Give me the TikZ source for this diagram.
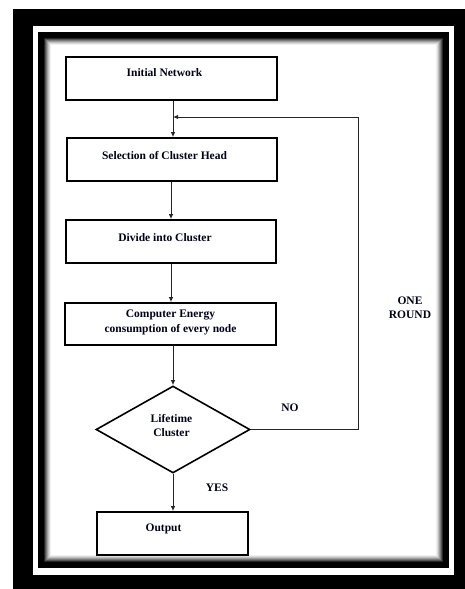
\documentclass[tikz,border=0pt]{standalone}
\usepackage{fontspec}
\setmainfont{Liberation Serif}
\usetikzlibrary{shapes.geometric,arrows.meta,calc}
\begin{document}
\begin{tikzpicture}[x=1pt,y=-1pt,
  boxst/.style={draw=black,line width=1.8pt,rectangle,minimum height=43pt,inner sep=0pt},
  decst/.style={draw=black,line width=1.6pt,diamond,minimum width=154pt,minimum height=87pt,inner sep=0pt,aspect=1.77},
  txt/.style={font=\fontsize{11.5}{14.5}\selectfont\bfseries,align=center,inner sep=0pt,text=black!90!blue},
  conn/.style={draw=black!85,line width=0.9pt},
  arr/.style={conn,-{Latex[length=5pt,width=4.5pt]}}]
\useasboundingbox (0,0) rectangle (465,589);
% frame
\fill[white] (0,0) rectangle (465,589);
\fill[black] (13,9) rectangle (465,589);
\fill[white] (33,26) rectangle (454,575);
\fill[black] (38,32) rectangle (449,568);
\foreach \i/\c in {0/85,1/68,2/52,3/38,4/25,5/14,6/6}{
  \fill[black!\c] (44+\i,38+\i) rectangle (443-\i,562-\i);
}
\fill[white] (51,45) rectangle (436,555);
% nodes
\node[boxst,minimum width=211pt] (n1) at (171.5,78.5) {};
\node[txt] (t1) at ($(n1.center)+(-7,-5.5)$) {Initial Network};
\node[boxst,minimum width=210pt] (n2) at (172,159.5) {};
\node[txt] (t2) at ($(n2.center)+(-7.5,-3.5)$) {Selection of Cluster Head};
\node[boxst,minimum width=210pt] (n3) at (171,241.5) {};
\node[txt] (t3) at ($(n3.center)+(-6,-4)$) {Divide into Cluster};
\node[boxst,minimum width=211pt,minimum height=42pt] (n4) at (170.5,324) {};
\node[txt] (t4) at ($(n4.center)+(0,-1.5)$) {Computer Energy\\consumption of every node};
\node[decst] (d) at (173,429.5) {};
\node[txt] (t5) at ($(d.center)+(-1.5,-4)$) {Lifetime\\Cluster};
\node[boxst,minimum width=151pt] (n5) at (172.5,533.5) {};
\node[txt] (t6) at ($(n5.center)+(-9,-4.5)$) {Output};
% labels
\node[txt] (no) at (290,408) {NO};
\node[txt] (yes) at (217,488) {YES};
\node[txt] (one) at (410,307.5) {ONE\\ROUND};
% connectors
\coordinate (fbtop) at (358,117);
\coordinate (fbend) at (173,117);
\draw[arr] (n1.south -| fbend) -- (n2.north -| fbend);
\draw[arr] (n2.south -| n3.north) -- (n3.north);
\draw[arr] (n3.south) -- (n4.north -| n3.south);
\draw[arr] (n4.south -| d.north) -- (d.north);
\draw[arr] (d.south) -- (n5.north -| d.south);
\draw[arr] (d.east) -| (fbtop) -- (fbend);
\end{tikzpicture}
\end{document}
